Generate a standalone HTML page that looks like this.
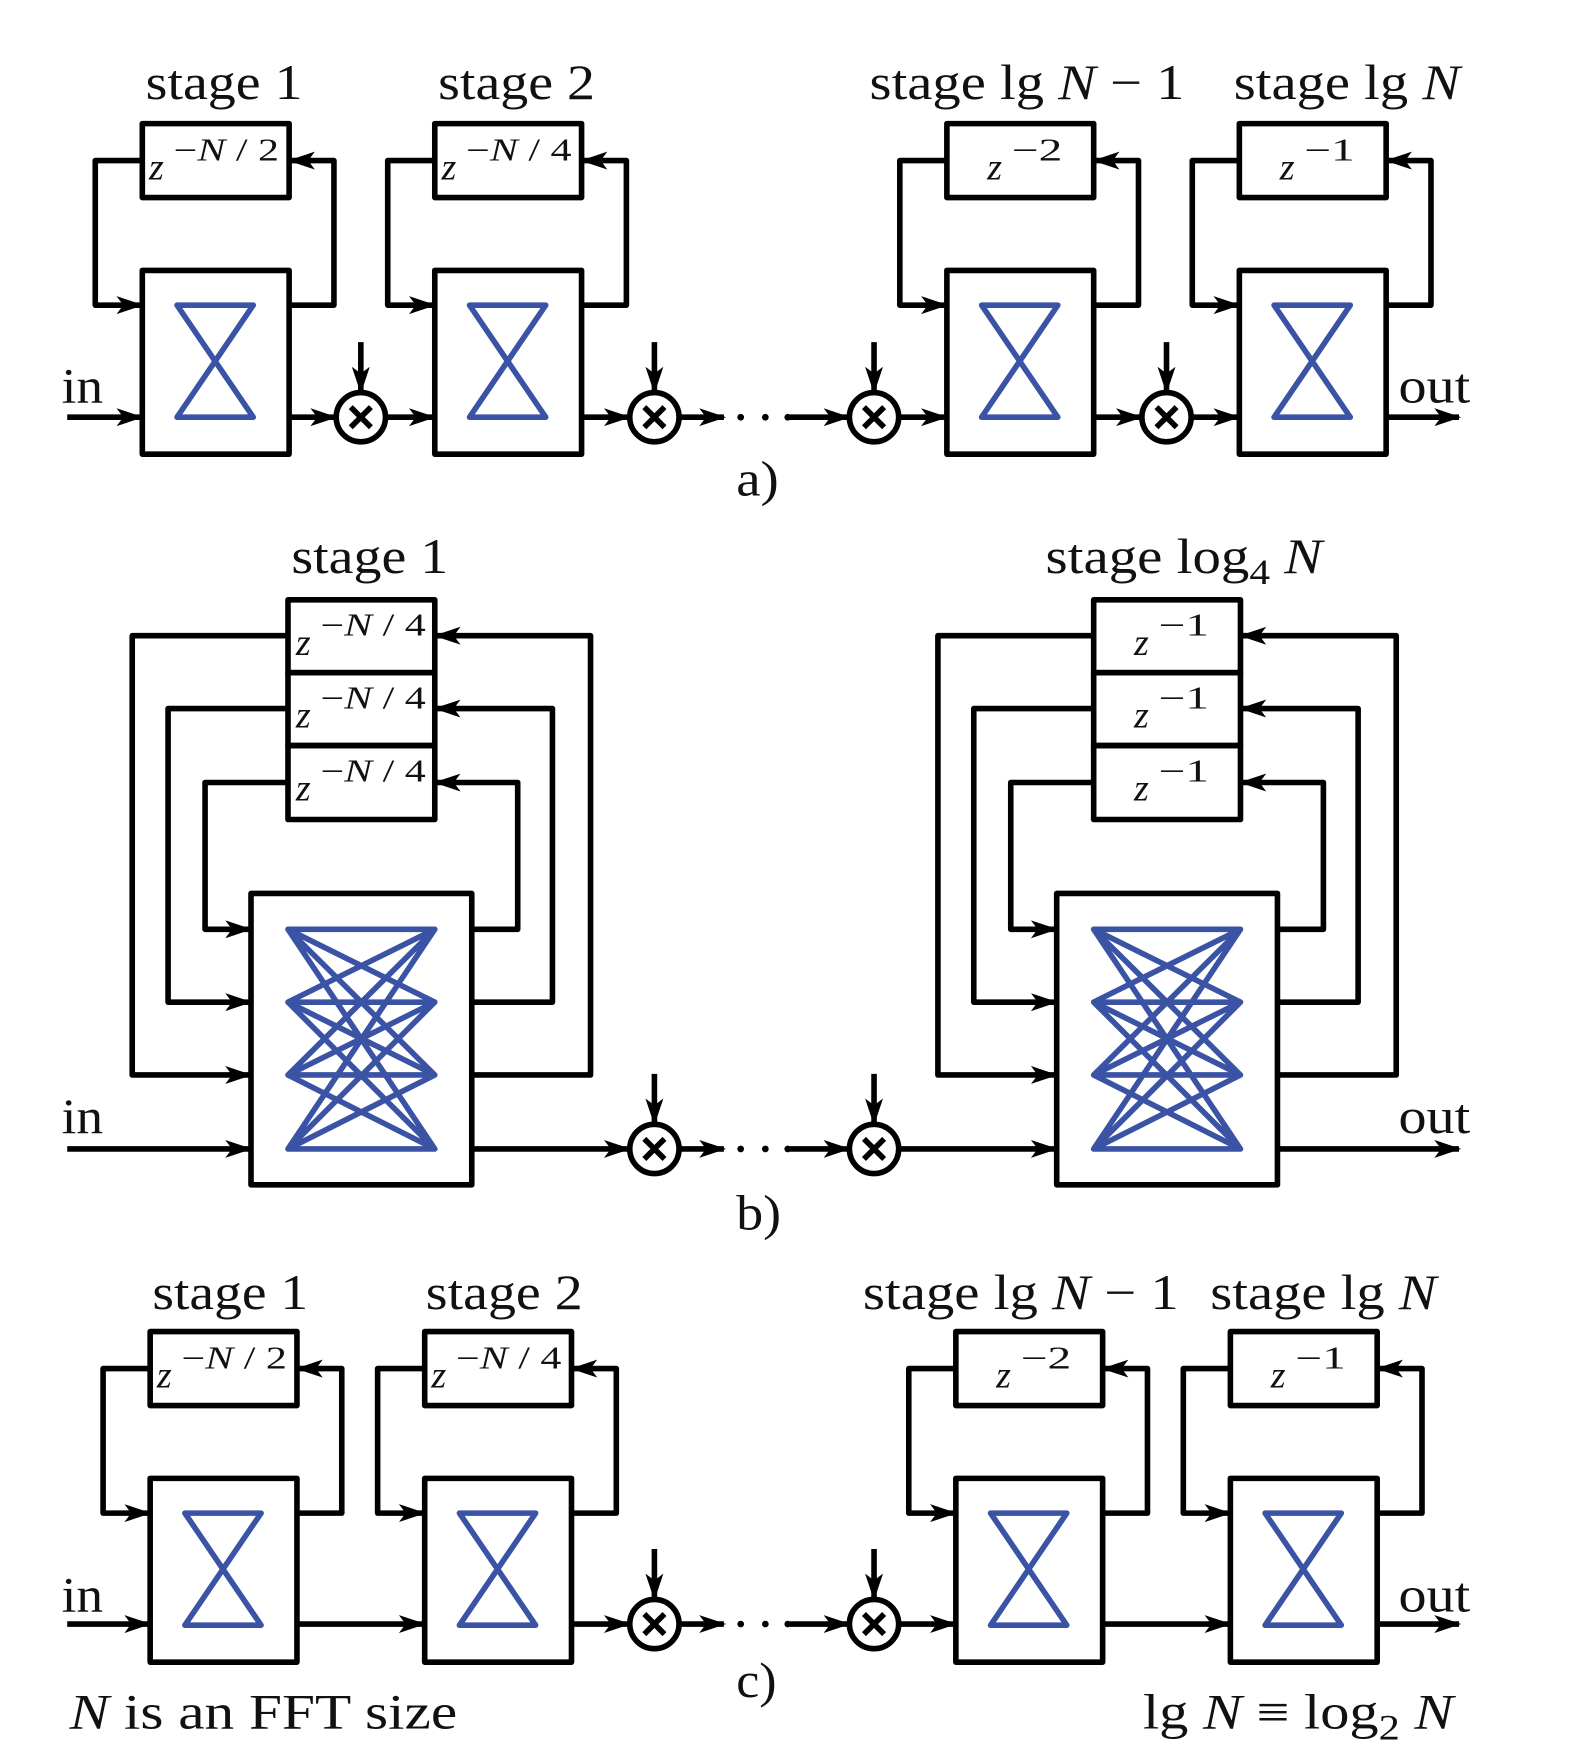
<!DOCTYPE html>
<html><head><meta charset="utf-8"><style>html,body{margin:0;padding:0;background:#fff}svg{display:block}text{font-family:"Liberation Serif",serif;fill:#111}</style></head><body>
<svg width="1580" height="1760" viewBox="0 0 1410 1570" xmlns="http://www.w3.org/2000/svg">
<defs>
<marker id="ar" markerUnits="userSpaceOnUse" markerWidth="30" markerHeight="20" refX="22" refY="8" orient="auto"><path d="M0 0 L24 8 L0 16 L6 8 Z" fill="#000"/></marker>
<g id="sa" fill="none" stroke="#000" stroke-width="5" stroke-linejoin="round">
<rect x="0" y="110" width="131" height="66"/>
<rect x="0" y="241" width="131" height="164"/>
<path d="M0 143H-42V272H-1" marker-end="url(#ar)"/>
<path d="M131 272H171V143H132" marker-end="url(#ar)"/>
<path d="M31 272H99L31 372H99Z" stroke="#3a53a4" stroke-width="5"/>
</g>
<g id="mul" fill="none" stroke="#000" stroke-width="5">
<circle cx="0" cy="0" r="22"/><path d="M-9 -9L9 9M9 -9L-9 9" stroke-width="5"/>
<path d="M0 -67V-23" marker-end="url(#ar)"/>
</g>
<g id="sb" fill="none" stroke="#000" stroke-width="5" stroke-linejoin="round">
<rect x="257" y="535" width="131" height="65"/><rect x="257" y="600" width="131" height="65"/><rect x="257" y="665" width="131" height="66"/>
<rect x="224" y="797" width="197" height="260"/>
<path d="M257 567H118V959H223" marker-end="url(#ar)"/>
<path d="M257 632H150V894H223" marker-end="url(#ar)"/>
<path d="M257 698H183V829H223" marker-end="url(#ar)"/>
<path d="M421 959H527V567H389" marker-end="url(#ar)"/>
<path d="M421 894H493V632H389" marker-end="url(#ar)"/>
<path d="M421 829H462V698H389" marker-end="url(#ar)"/>
<path stroke="#3a53a4" stroke-width="5" stroke-linecap="round" d="M257 829L388 829M257 829L388 894M257 829L388 959M257 829L388 1025M257 894L388 829M257 894L388 894M257 894L388 959M257 894L388 1025M257 959L388 829M257 959L388 894M257 959L388 959M257 959L388 1025M257 1025L388 829M257 1025L388 894M257 1025L388 959M257 1025L388 1025"/>
</g>
</defs>

<!-- Panel a -->
<use href="#sa" x="127"/><use href="#sa" x="388"/><use href="#sa" x="845"/><use href="#sa" x="1106"/>
<use href="#mul" x="322" y="372"/><use href="#mul" x="584" y="372"/><use href="#mul" x="780" y="372"/><use href="#mul" x="1041" y="372"/>
<g fill="none" stroke="#000" stroke-width="5" marker-end="url(#ar)">
<path d="M60 372H126"/><path d="M258 372H299"/><path d="M344 372H387"/><path d="M519 372H561"/><path d="M606 372H646"/><path d="M705 372H757"/><path d="M802 372H844"/><path d="M976 372H1018"/><path d="M1063 372H1105"/><path d="M1238 372H1302"/>
</g>
<g fill="#000"><circle cx="661" cy="372" r="3"/><circle cx="683" cy="372" r="3"/><circle cx="703" cy="372" r="3"/></g>
<g font-size="44" lengthAdjust="spacingAndGlyphs">
<text x="130" y="88" textLength="140" lengthAdjust="spacingAndGlyphs">stage 1</text>
<text x="391" y="88" textLength="140" lengthAdjust="spacingAndGlyphs">stage 2</text>
<text x="776" y="88" textLength="281" lengthAdjust="spacingAndGlyphs">stage lg <tspan font-style="italic">N</tspan> − 1</text>
<text x="1101" y="88" textLength="202" lengthAdjust="spacingAndGlyphs">stage lg <tspan font-style="italic">N</tspan></text>
<text x="55" y="359" textLength="37" lengthAdjust="spacingAndGlyphs">in</text>
<text x="1248" y="359" textLength="64" lengthAdjust="spacingAndGlyphs">out</text>
<text x="657" y="442" textLength="38" lengthAdjust="spacingAndGlyphs">a)</text>
</g>
<g font-size="34">
<text x="133" y="160" font-style="italic">z</text><text x="155" y="143" font-size="28" textLength="94" lengthAdjust="spacingAndGlyphs">−<tspan font-style="italic">N</tspan> / 2</text>
<text x="394" y="160" font-style="italic">z</text><text x="416" y="143" font-size="28" textLength="94" lengthAdjust="spacingAndGlyphs">−<tspan font-style="italic">N</tspan> / 4</text>
<text x="881" y="160" font-style="italic">z</text><text x="903" y="143" font-size="28" textLength="45" lengthAdjust="spacingAndGlyphs">−2</text>
<text x="1142" y="160" font-style="italic">z</text><text x="1164" y="143" font-size="28" textLength="45" lengthAdjust="spacingAndGlyphs">−1</text>
</g>

<!-- Panel b -->
<use href="#sb"/><use href="#sb" x="719"/>
<use href="#mul" x="584" y="1025"/><use href="#mul" x="780" y="1025"/>
<g fill="none" stroke="#000" stroke-width="5" marker-end="url(#ar)">
<path d="M60 1025H223"/><path d="M421 1025H561"/><path d="M606 1025H646"/><path d="M705 1025H757"/><path d="M802 1025H942"/><path d="M1140 1025H1302"/>
</g>
<g fill="#000"><circle cx="661" cy="1025" r="3"/><circle cx="683" cy="1025" r="3"/><circle cx="703" cy="1025" r="3"/></g>
<g font-size="44">
<text x="260" y="511" textLength="140" lengthAdjust="spacingAndGlyphs">stage 1</text>
<text x="933" y="511" textLength="247" lengthAdjust="spacingAndGlyphs">stage log<tspan font-size="32" dy="10">4</tspan><tspan dy="-10" font-style="italic"> N</tspan></text>
<text x="55" y="1011" textLength="37" lengthAdjust="spacingAndGlyphs">in</text>
<text x="1248" y="1011" textLength="64" lengthAdjust="spacingAndGlyphs">out</text>
<text x="657" y="1097" textLength="40" lengthAdjust="spacingAndGlyphs">b)</text>
</g>
<g font-size="34">
<text x="264" y="584" font-style="italic">z</text><text x="286" y="567" font-size="28" textLength="94" lengthAdjust="spacingAndGlyphs">−<tspan font-style="italic">N</tspan> / 4</text>
<text x="264" y="649" font-style="italic">z</text><text x="286" y="632" font-size="28" textLength="94" lengthAdjust="spacingAndGlyphs">−<tspan font-style="italic">N</tspan> / 4</text>
<text x="264" y="714" font-style="italic">z</text><text x="286" y="697" font-size="28" textLength="94" lengthAdjust="spacingAndGlyphs">−<tspan font-style="italic">N</tspan> / 4</text>
<text x="1012" y="584" font-style="italic">z</text><text x="1034" y="567" font-size="28" textLength="45" lengthAdjust="spacingAndGlyphs">−1</text>
<text x="1012" y="649" font-style="italic">z</text><text x="1034" y="632" font-size="28" textLength="45" lengthAdjust="spacingAndGlyphs">−1</text>
<text x="1012" y="714" font-style="italic">z</text><text x="1034" y="697" font-size="28" textLength="45" lengthAdjust="spacingAndGlyphs">−1</text>
</g>

<!-- Panel c -->
<use href="#sa" x="134" y="1078"/><use href="#sa" x="379" y="1078"/><use href="#sa" x="853" y="1078"/><use href="#sa" x="1098" y="1078"/>
<use href="#mul" x="584" y="1449"/><use href="#mul" x="780" y="1449"/>
<g fill="none" stroke="#000" stroke-width="5" marker-end="url(#ar)">
<path d="M60 1449H133"/><path d="M266 1449H378"/><path d="M511 1449H561"/><path d="M606 1449H646"/><path d="M705 1449H757"/><path d="M802 1449H852"/><path d="M985 1449H1097"/><path d="M1230 1449H1302"/>
</g>
<g fill="#000"><circle cx="661" cy="1449" r="3"/><circle cx="683" cy="1449" r="3"/><circle cx="703" cy="1449" r="3"/></g>
<g font-size="44">
<text x="136" y="1168" textLength="139" lengthAdjust="spacingAndGlyphs">stage 1</text>
<text x="380" y="1168" textLength="140" lengthAdjust="spacingAndGlyphs">stage 2</text>
<text x="770" y="1168" textLength="282" lengthAdjust="spacingAndGlyphs">stage lg <tspan font-style="italic">N</tspan> − 1</text>
<text x="1080" y="1168" textLength="202" lengthAdjust="spacingAndGlyphs">stage lg <tspan font-style="italic">N</tspan></text>
<text x="55" y="1438" textLength="37" lengthAdjust="spacingAndGlyphs">in</text>
<text x="1248" y="1438" textLength="64" lengthAdjust="spacingAndGlyphs">out</text>
<text x="657" y="1514" textLength="36" lengthAdjust="spacingAndGlyphs">c)</text>
<text x="62" y="1542" textLength="346" lengthAdjust="spacingAndGlyphs"><tspan font-style="italic">N</tspan> is an FFT size</text>
<text x="1020" y="1542" textLength="277" lengthAdjust="spacingAndGlyphs">lg <tspan font-style="italic">N</tspan> ≡ log<tspan font-size="32" dy="10">2</tspan><tspan dy="-10" font-style="italic"> N</tspan></text>
</g>
<g font-size="34">
<text x="140" y="1238" font-style="italic">z</text><text x="162" y="1221" font-size="28" textLength="94" lengthAdjust="spacingAndGlyphs">−<tspan font-style="italic">N</tspan> / 2</text>
<text x="385" y="1238" font-style="italic">z</text><text x="407" y="1221" font-size="28" textLength="94" lengthAdjust="spacingAndGlyphs">−<tspan font-style="italic">N</tspan> / 4</text>
<text x="889" y="1238" font-style="italic">z</text><text x="911" y="1221" font-size="28" textLength="45" lengthAdjust="spacingAndGlyphs">−2</text>
<text x="1134" y="1238" font-style="italic">z</text><text x="1156" y="1221" font-size="28" textLength="45" lengthAdjust="spacingAndGlyphs">−1</text>
</g>
</svg>
</body></html>
